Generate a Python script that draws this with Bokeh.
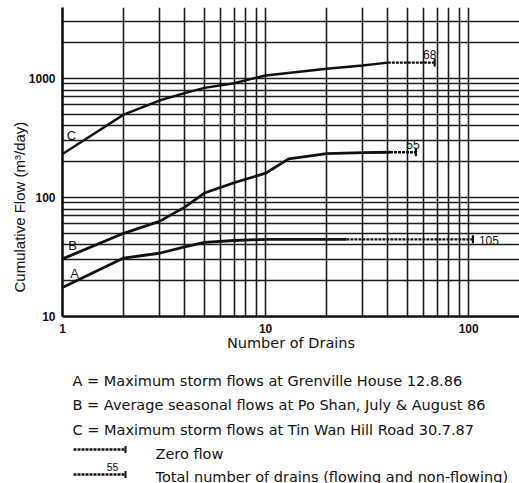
import math
from bokeh.plotting import figure
from bokeh.layouts import column
from bokeh.models import FixedTicker, Title, BasicTickFormatter, ColumnDataSource
from bokeh.core.properties import value
from bokeh.embed import file_html
from bokeh.resources import INLINE

# ---------------- data ----------------
a_drains = [1, 2, 3, 4, 5, 7, 10, 25]
a_flow = [17.5, 31, 34, 38.5, 42, 43.5, 44.5, 44.5]
a_total = 105

b_drains = [1, 2, 3, 4, 5, 7, 10, 13, 20, 30, 41]
b_flow = [30.5, 50, 63, 83, 109, 133, 160, 211, 234, 238, 240]
b_total = 55

c_drains = [1, 2, 3, 4, 5, 7, 10, 20, 30, 40]
c_flow = [232, 497, 653, 753, 835, 913, 1060, 1207, 1285, 1360]
c_total = 68

curve_letters = ["A", "B", "C"]

x_major = [1, 10, 100]
x_minor = [2, 3, 4, 5, 6, 7, 8, 9, 20, 30, 40, 50, 60, 70, 80, 90]
y_major = [10, 100, 1000]
y_minor = [20, 30, 40, 50, 60, 70, 80, 90,
           200, 300, 400, 500, 600, 700, 800, 900, 2000, 3000]

legend_texts = [
    "A = Maximum storm flows at Grenville House 12.8.86",
    "B = Average seasonal flows at Po Shan, July & August 86",
    "C = Maximum storm flows at Tin Wan Hill Road 30.7.87",
    "Zero flow",
    "Total number of drains (flowing and non-flowing)",
]
legend_example_total = "55"

x_label = "Number of Drains"
y_label = "Cumulative Flow  (m\u00b3/day)"

# ---------------- layout ----------------
FONT = "Liberation Sans"
WIDE = "DejaVu Sans"
INK = "#111"
W = 519
H1 = 360          # chart part
H2 = 123          # legend part
BL, BT, BR, BB = 62, 7, 0, 44
X0, X1 = 1, 178
Y0, Y1 = 10, 3950

p = figure(width=W, height=H1, x_axis_type="log", y_axis_type="log",
           x_range=(X0, X1), y_range=(Y0, Y1),
           output_backend="svg", toolbar_location=None, title=None,
           min_border_left=BL, min_border_top=BT, min_border_right=BR,
           min_border_bottom=BB)
p.outline_line_color = None
p.background_fill_color = "white"
p.border_fill_color = "white"

xt = FixedTicker(ticks=x_major, minor_ticks=x_minor)
yt = FixedTicker(ticks=y_major, minor_ticks=y_minor)
p.xaxis.ticker = xt
p.yaxis.ticker = yt
p.xgrid.ticker = xt
p.ygrid.ticker = yt
p.xaxis.formatter = BasicTickFormatter()
p.yaxis.formatter = BasicTickFormatter()
p.xaxis.major_label_overrides = {t: str(t) for t in x_major}
p.yaxis.major_label_overrides = {t: str(t) for t in y_major}

GRID = "#1c1c1c"
for g in (p.xgrid, p.ygrid):
    g.grid_line_color = GRID
    g.grid_line_width = 1.6
    g.grid_line_alpha = 1
    g.minor_grid_line_color = GRID
    g.minor_grid_line_width = 1.6
    g.minor_grid_line_alpha = 1

for ax in (p.xaxis, p.yaxis):
    ax.axis_line_color = INK
    ax.axis_line_width = 2.6
    ax.major_tick_line_color = None
    ax.minor_tick_line_color = None
    ax.major_tick_out = 0
    ax.major_tick_in = 0
    ax.minor_tick_out = 0
    ax.minor_tick_in = 0
    ax.major_label_text_font = FONT
    ax.major_label_text_font_size = "12px"
    ax.major_label_text_font_style = "bold"
    ax.major_label_text_color = INK

p.xaxis.major_label_standoff = 7
p.yaxis.major_label_standoff = 7
p.xaxis.axis_label = x_label
p.xaxis.axis_label_text_font = WIDE
p.xaxis.axis_label_text_font_size = "14.5px"
p.xaxis.axis_label_text_font_style = "normal"
p.xaxis.axis_label_text_color = INK
p.xaxis.axis_label_standoff = -1

# y-axis title, placed off-centre like the reference
p.add_layout(Title(text=y_label, align="left", offset=24,
                   text_font=FONT, text_font_size="15px",
                   text_font_style="normal", text_color=INK,
                   standoff=-4), "left")

# flowing parts
p.line(a_drains, a_flow, line_color=INK, line_width=2.8)
p.line(b_drains, b_flow, line_color=INK, line_width=2.8)
p.line(c_drains, c_flow, line_color=INK, line_width=2.4)

# zero-flow parts (dashed) up to the total number of drains
ends = ColumnDataSource(dict(
    x0=[a_drains[-1], b_drains[-1], c_drains[-1]],
    y0=[a_flow[-1], b_flow[-1], c_flow[-1]],
    x1=[a_total, b_total, c_total],
    y1=[a_flow[-1], b_flow[-1], c_flow[-1]],
    label=[str(a_total), str(b_total), str(c_total)],
    align=["left", "center", "center"],
    base=["middle", "bottom", "bottom"],
    xo=[6, -3, -5],
    yo=[1, -3, -4],
))
p.segment("x0", "y0", "x1", "y1", source=ends, line_color=INK,
          line_width=2.4, line_dash="3 1")
p.scatter("x1", "y1", source=ends, marker="dash", angle=math.pi / 2,
          size=8, line_color=INK, line_width=2.2)
p.text("x1", "y1", text="label", source=ends, text_align="align",
       text_baseline="base", x_offset="xo", y_offset="yo",
       text_font=value(FONT), text_font_size="12px", text_color=INK)

# curve letters near the start of each curve
letters = ColumnDataSource(dict(
    x=[a_drains[0], b_drains[0], c_drains[0]],
    y=[a_flow[0], b_flow[0], c_flow[0]],
    t=curve_letters,
    xo=[12, 10, 9],
    yo=[-14, -13, -19],
))
p.text("x", "y", text="t", source=letters, x_offset="xo", y_offset="yo",
       text_align="center", text_baseline="middle",
       text_font=value(FONT), text_font_size="13px", text_color=INK)

# ---------------- legend (page-pixel coordinates) ----------------
# The column aligns this plot's frame with the chart frame (x from BL to W).
q = figure(width=W, height=H2, x_range=(BL, W), y_range=(H2, 0),
           output_backend="svg", toolbar_location=None, title=None,
           x_axis_location=None, y_axis_location=None,
           min_border_left=BL, min_border_right=BR,
           min_border_top=0, min_border_bottom=0)
q.grid.visible = False
q.outline_line_color = None
q.background_fill_color = "white"
q.border_fill_color = "white"

leg = ColumnDataSource(dict(
    x=[72, 72, 72, 155, 155],
    y=[20, 44.5, 69, 93, 116],
    t=legend_texts,
))
q.text("x", "y", text="t", source=leg, text_align="left",
       text_baseline="alphabetic", text_font=value(WIDE),
       text_font_size="14.5px", text_color=INK)

sym = ColumnDataSource(dict(x0=[73, 73], x1=[125, 125], y=[89, 114]))
q.segment("x0", "y", "x1", "y", source=sym, line_color=INK,
          line_width=2.4, line_dash="3 1")
q.scatter("x1", "y", source=sym, marker="dash", angle=math.pi / 2,
          size=7, line_color=INK, line_width=2)
q.text([112], [106.5], text=[legend_example_total], text_align="center",
       text_baseline="alphabetic", text_font=value(FONT),
       text_font_size="10.5px", text_color=INK)

layout = column(p, q, spacing=0)
open("out.html", "w").write(file_html(layout, INLINE))
